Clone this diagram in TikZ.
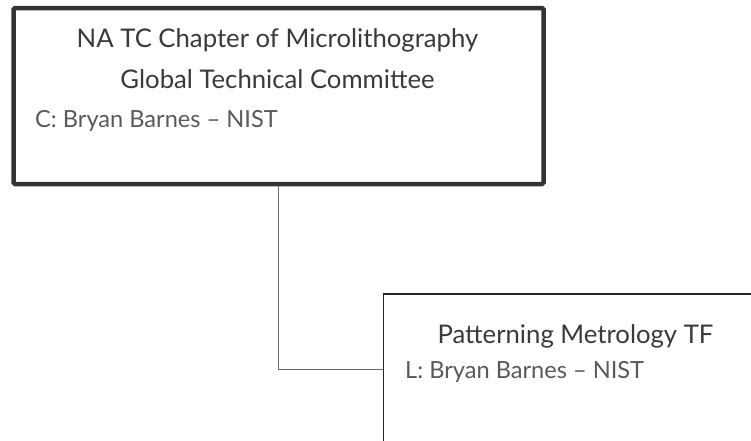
\documentclass[tikz,border=0pt]{standalone}
\usepackage{fontspec}
\setmainfont{Lato}
\definecolor{boxdark}{HTML}{333333}
\definecolor{titlecol}{HTML}{3A3A3A}
\definecolor{detailcol}{HTML}{5A5A5A}
\definecolor{linecol}{HTML}{6A6A6A}
\begin{document}
\begin{tikzpicture}[x=1pt,y=1pt,
  topbox/.style={draw=boxdark,line width=4.5pt,rounded corners=1.5pt,fill=white,minimum width=530pt,minimum height=176pt,inner sep=0pt},
  subbox/.style={draw=black!85,line width=1.5pt,fill=white,minimum width=384pt,minimum height=150pt,inner sep=0pt},
  titletext/.style={font=\fontsize{25.7pt}{29pt}\selectfont,text=titlecol,inner sep=0pt,anchor=base},
  detailtext/.style={font=\fontsize{23.6pt}{27pt}\selectfont,text=detailcol,inner sep=0pt,anchor=base west},
  conn/.style={draw=linecol,line width=1pt}]
\clip (0,0) rectangle (751,-440);
\fill[white] (0,0) rectangle (751,-440);
\node[topbox] (top) at (278.5,-96) {};
\node[subbox] (sub) at (575.5,-369) {};
\draw[conn] (top.south) |- (sub.west);
\node[titletext] (t1) at (277.5,-47) {NA TC Chapter of Microlithography};
\node[titletext] (t2) at (277.5,-88) {Global Technical Committee};
\node[detailtext] (d1) at (35,-127) {C: Bryan Barnes -- NIST};
\node[titletext] (t3) at (575.5,-343) {Patterning Metrology TF};
\node[detailtext] (d2) at (405,-378) {L: Bryan Barnes -- NIST};
\end{tikzpicture}
\end{document}
